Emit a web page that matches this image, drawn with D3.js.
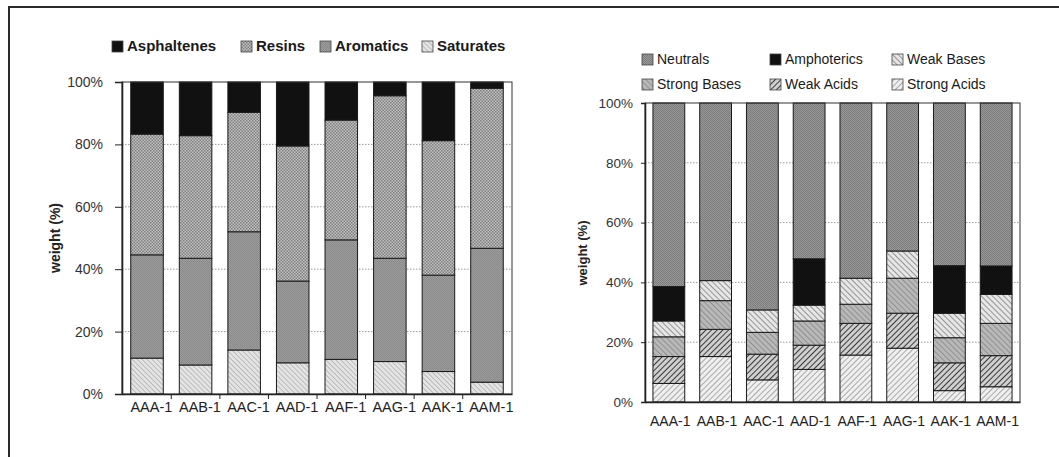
<!DOCTYPE html>
<html><head><meta charset="utf-8">
<script src="https://cdn.jsdelivr.net/npm/d3@7"></script>
<style>body{margin:0;background:#fff}svg{display:block;font-family:"Liberation Sans",Arial,sans-serif}</style>
</head><body>
<svg id="c" width="1059" height="457"></svg>
<script>
// ---------- data ----------
const samples = ["AAA-1","AAB-1","AAC-1","AAD-1","AAF-1","AAG-1","AAK-1","AAM-1"];
// left chart (SARA), % weight
const saturates   = [11.5, 9.3, 14.1, 10.0, 11.1, 10.4, 7.2, 3.8];
const aromatics   = [33.1, 34.2, 37.9, 26.2, 38.3, 33.1, 30.9, 42.9];
const resins      = [38.7, 39.3, 38.3, 43.3, 38.4, 52.1, 43.1, 51.3];
const asphaltenes = [16.7, 17.2, 9.7, 20.5, 12.2, 4.4, 18.8, 2.0];
// right chart (acid/base fractions), % weight
const strongAcids = [6.2, 15.2, 7.4, 10.9, 15.7, 18.0, 3.8, 5.1];
const weakAcids   = [9.0, 9.1, 8.6, 8.1, 10.6, 11.7, 9.3, 10.4];
const strongBases = [6.6, 9.6, 7.3, 8.1, 6.4, 11.7, 8.4, 10.8];
const weakBases   = [5.3, 6.7, 7.5, 5.3, 8.7, 9.1, 8.2, 9.7];
const amphoterics = [11.5, 0, 0, 15.5, 0, 0, 15.9, 9.5];
const neutrals    = [61.4, 59.4, 69.2, 52.1, 58.6, 49.5, 54.4, 54.5];
const yTicks = [0, 20, 40, 60, 80, 100];
const yTitle = "weight (%)";

const svg = d3.select("#c");
const defs = svg.append("defs");

function checker(id, a, b, s) {
  const p = defs.append("pattern").attr("id", id).attr("patternUnits","userSpaceOnUse")
    .attr("width", 2*s).attr("height", 2*s);
  p.append("rect").attr("width",2*s).attr("height",2*s).attr("fill",a);
  p.append("rect").attr("width",s).attr("height",s).attr("fill",b);
  p.append("rect").attr("x",s).attr("y",s).attr("width",s).attr("height",s).attr("fill",b);
}
function hatch(id, bg, fg, w, gap, angle) {
  const p = defs.append("pattern").attr("id", id).attr("patternUnits","userSpaceOnUse")
    .attr("width", gap).attr("height", gap).attr("patternTransform", `rotate(${angle})`);
  p.append("rect").attr("width",gap).attr("height",gap).attr("fill",bg);
  p.append("line").attr("x1",0).attr("y1",0).attr("x2",0).attr("y2",gap)
    .attr("stroke",fg).attr("stroke-width",w);
}
checker("pRes", "#c2c2c2", "#7e7e7e", 1.5);
checker("pAro", "#9c9c9c", "#8a8a8a", 1);
hatch("pSat", "#e4e4e4", "#8a8a8a", 0.9, 3.5, -45);
checker("pNeu", "#989898", "#7c7c7c", 1);
hatch("pWB", "#e6e6e6", "#6a6a6a", 1.3, 4, -45);
hatch("pSB", "#b8b8b8", "#7a7a7a", 1.3, 4, -45);
hatch("pWA", "#cfcfcf", "#2a2a2a", 1.8, 4, 45);
hatch("pSA", "#efefef", "#6e6e6e", 1.1, 4, 45);

// outer border
svg.append("rect").attr("x",9).attr("y",7).attr("width",1060).attr("height",460)
  .attr("fill","none").attr("stroke","#2a2a2a").attr("stroke-width",2);

function chart(opt) {
  const g = svg.append("g");
  const x = d3.scaleBand().domain(samples).range([opt.x0, opt.x1])
    .paddingInner(opt.pi).paddingOuter(opt.po);
  const y = d3.scaleLinear().domain([0,100]).range([opt.y0, opt.y1]);
  // gridlines
  g.append("g").selectAll("line").data(yTicks.filter(t => t>0 && t<100)).join("line")
    .attr("x1",opt.x0).attr("x2",opt.x1).attr("y1",d=>y(d)).attr("y2",d=>y(d))
    .attr("stroke","#9a9a9a").attr("stroke-width",1).attr("stroke-dasharray","1.5,1.5");
  // stacked bars
  const rows = samples.map((s,i) => {
    const r = {sample: s};
    opt.series.forEach(se => r[se.key] = se.values[i]);
    return r;
  });
  const stack = d3.stack().keys(opt.series.map(s=>s.key))(rows);
  stack.forEach((layer, li) => {
    g.append("g").selectAll("rect").data(layer.filter(d => d[1]-d[0] > 0)).join("rect")
      .attr("x", d => x(d.data.sample)).attr("width", x.bandwidth())
      .attr("y", d => y(d[1])).attr("height", d => y(d[0]) - y(d[1]))
      .attr("fill", opt.series[li].fill).attr("stroke","#1a1a1a").attr("stroke-width",1);
  });
  // frame
  g.append("rect").attr("x",opt.x0).attr("y",opt.y1).attr("width",opt.x1-opt.x0).attr("height",opt.y0-opt.y1)
    .attr("fill","none").attr("stroke", "#333").attr("stroke-width",1);
  // y axis
  const ya = g.append("g").attr("transform",`translate(${opt.x0},0)`)
    .call(d3.axisLeft(y).tickValues(yTicks).tickFormat(d => d + "%").tickSizeOuter(0).tickSize(opt.tick).tickPadding(opt.tpad));
  ya.select(".domain").attr("stroke","#222").attr("stroke-width",1.6);
  ya.selectAll("line").attr("stroke","#222");
  ya.selectAll("text").attr("font-size", opt.fsY).attr("fill","#333").attr("font-family",'"Liberation Sans",Arial,sans-serif');
  // x axis
  const xa = g.append("g").attr("transform",`translate(0,${opt.y0})`)
    .call(d3.axisBottom(x).tickSize(0).tickPadding(opt.xpad).tickSizeOuter(0));
  xa.select(".domain").attr("stroke","#222").attr("stroke-width",1.6);
  xa.selectAll("text").attr("font-size", opt.fsX).attr("fill","#222").attr("dx", opt.xdx)
    .attr("font-family",'"Liberation Sans",Arial,sans-serif');
  if (opt.catTicks) {
    const step = x.step();
    g.append("g").selectAll("line").data(samples.slice(0,-1)).join("line")
      .attr("x1", d => x(d) + x.bandwidth() + (step - x.bandwidth())/2)
      .attr("x2", d => x(d) + x.bandwidth() + (step - x.bandwidth())/2)
      .attr("y1", opt.y0).attr("y2", opt.y0 + 5).attr("stroke","#222");
  }
  // y title
  g.append("text").attr("transform",`translate(${opt.tx},${opt.ty}) rotate(-90)`)
    .attr("text-anchor","middle").attr("font-weight","bold").attr("font-size",opt.fsT)
    .attr("fill","#222").text(yTitle);
  // legend
  const lg = g.append("g");
  opt.legend.forEach(l => {
    lg.append("rect").attr("x", l.x).attr("y", l.y - 5).attr("width", 11).attr("height", 11)
      .attr("fill", l.fill).attr("stroke","#444").attr("stroke-width",0.8);
    lg.append("text").attr("x", l.x + 15).attr("y", l.y).attr("dy","0.35em")
      .attr("font-size", opt.fsL).attr("font-weight", opt.lw).attr("fill","#1a1a1a").text(l.name);
  });
}

chart({
  x0: 122, x1: 512, y0: 394, y1: 82, pi: 0.33, po: 0.18, tick: 7, tpad: 12,
  fsY: 14, fsX: 14.5, xpad: 8, xdx: "0.3em", catTicks: true, fsT: 14, tx: 60, ty: 238,
  fsL: 15, lw: "bold",
  series: [
    {key:"Saturates", values: saturates, fill:"url(#pSat)"},
    {key:"Aromatics", values: aromatics, fill:"url(#pAro)"},
    {key:"Resins", values: resins, fill:"url(#pRes)"},
    {key:"Asphaltenes", values: asphaltenes, fill:"#111"}
  ],
  legend: [
    {name:"Asphaltenes", x:112, y:46, fill:"#111"},
    {name:"Resins", x:241, y:46, fill:"url(#pRes)"},
    {name:"Aromatics", x:320, y:46, fill:"url(#pAro)"},
    {name:"Saturates", x:422, y:46, fill:"url(#pSat)"}
  ]
});

chart({
  x0: 645, x1: 1020, y0: 402, y1: 103, pi: 0.32, po: 0.17, tick: 4, tpad: 8,
  fsY: 13.5, fsX: 14, xpad: 14, xdx: "0.1em", catTicks: false, fsT: 13, tx: 587, ty: 253,
  fsL: 14, lw: "normal",
  series: [
    {key:"Strong Acids", values: strongAcids, fill:"url(#pSA)"},
    {key:"Weak Acids", values: weakAcids, fill:"url(#pWA)"},
    {key:"Strong Bases", values: strongBases, fill:"url(#pSB)"},
    {key:"Weak Bases", values: weakBases, fill:"url(#pWB)"},
    {key:"Amphoterics", values: amphoterics, fill:"#111"},
    {key:"Neutrals", values: neutrals, fill:"url(#pNeu)"}
  ],
  legend: [
    {name:"Neutrals", x:642, y:59, fill:"url(#pNeu)"},
    {name:"Amphoterics", x:770, y:59, fill:"#111"},
    {name:"Weak Bases", x:892, y:59, fill:"url(#pWB)"},
    {name:"Strong Bases", x:642, y:84, fill:"url(#pSB)"},
    {name:"Weak Acids", x:770, y:84, fill:"url(#pWA)"},
    {name:"Strong Acids", x:892, y:84, fill:"url(#pSA)"}
  ]
});
</script>
</body></html>
